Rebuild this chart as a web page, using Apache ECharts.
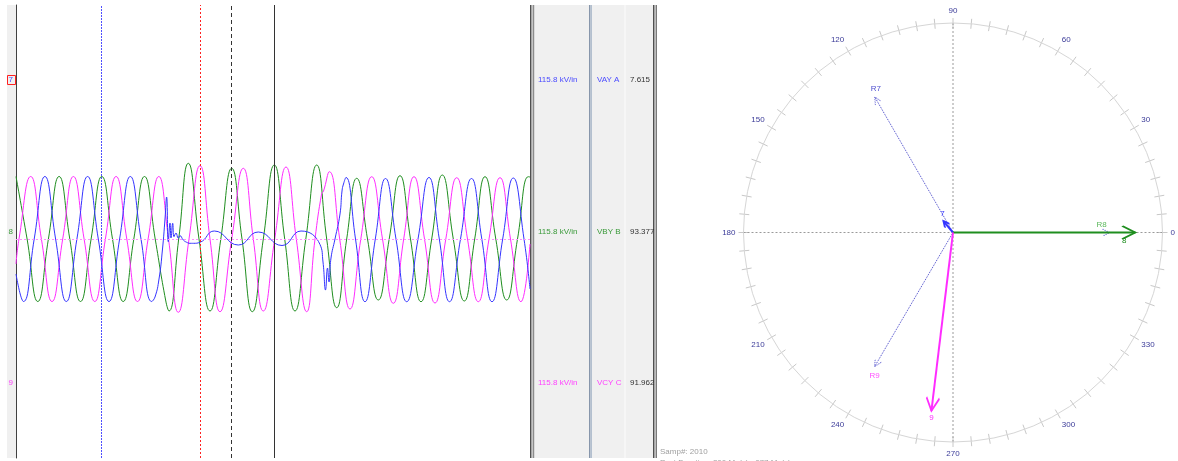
<!DOCTYPE html>
<html>
<head>
<meta charset="utf-8">
<script src="https://cdn.jsdelivr.net/npm/echarts@6/dist/echarts.min.js"></script>
<style>
html, body { margin: 0; padding: 0; background: #fff; }
#main { width: 1178px; height: 461px; }
</style>
</head>
<body>
<div id="main"></div>
<script>
// channel table (right panel + phasors)
var channelIds = ['7', '8', '9'];
var channelNames = ['VAY A', 'VBY B', 'VCY C'];
var channelScale = ['115.8 kV/in', '115.8 kV/in', '115.8 kV/in'];
var channelRms = [7.615, 93.377, 91.962];
var channelAngle = [130, 0, 263.1];

// reference phasors
var refNames = ['R7', 'R8', 'R9'];
var refMag = [80.1, 80.2, 79.5];
var refAngle = [120, 0, 239.7];

// cursor positions on the time axis
var cursorTimes = [85.7, 184.3, 215.3, 258.3];

// waveforms [t, value]
var phaseA = [[0,-35],[7.5,-62.5],[18.2,0],[28.9,62.5],[39.6,0],[50.3,-62.5],[60.9,0],[71.6,62.5],[82.3,0],[93,-62.5],
  [103.6,0],[114.3,62.5],[125,0],[135.7,-62.5],[139,-58],[143,-40],[146.5,-10],[149,20],[150.6,42],[152.3,-2.7],
  [154,16],[155,1],[156.7,15.7],[158,2.3],[160,6],[162.3,0.7],[164,3.3],[167.3,-1],[170.7,-3.3],[174,-4.3],
  [177.3,-4.3],[184,-3.3],[198.3,8],[222.3,-6],[242.3,7],[266,-6.5],[285,8],[304,-5.5],[307,-23],[309.5,-51],
  [311.5,-29],[313,-43],[315,-19],[319,0],[324,25],[326,48],[327.5,55],[330,61.5],[339.5,0],[349,-62.7],
  [359.3,0],[369.5,60.5],[380,0],[390.7,-62.7],[402,0],[413,61.5],[423.3,0],[433.5,-62.7],[444.5,0],[455.5,60.5],
  [465.8,0],[476,-62.7],[486.7,0],[497.3,61],[508,0],[514,-50]];

var phaseB = [[0,62.5],[11.1,0],[21.8,-62.5],[32.4,0],[43.1,62.5],[53.8,0],[64.5,-62.5],[75.1,0],[85.8,62.5],[96.5,0],
  [107.2,-62.5],[117.8,0],[128.5,62.5],[139.2,0],[149.8,-62],[153,-72],[162.7,0],[172.3,75.7],[183,0],[194,-72],
  [204.8,0],[215.7,70.7],[226,0],[236.3,-72.7],[247.3,0],[258.3,74],[268.7,0],[279,-72],[289.8,0],[300.7,74],
  [310.7,0],[320.7,-68.7],[330.7,0],[340.7,60.7],[351.5,0],[362.3,-61],[373.2,0],[384,63.3],[394.5,0],[405,-62.7],
  [415.7,0],[426.3,64],[437.3,0],[448.3,-62],[458.7,0],[469,62.3],[479.8,0],[490.7,-61],[501.5,0],[512.3,62.3],[514,62]];

var phaseC = [[0,-25],[3,0],[14.7,62.5],[25.4,0],[36,-62.5],[46.7,0],[57.4,62.5],[68.1,0],[78.8,-62.5],[89.4,0],
  [100.1,62.5],[110.8,0],[121.5,-62.5],[132.1,0],[142.8,62.5],[152.5,0],[162.3,-73.3],[173,0],[184,73.3],[194,0],
  [204,-72.7],[215.7,0],[227.3,70.7],[237.3,0],[247.3,-72],[258.7,0],[270,72],[280.3,0],[290.7,-72.7],[299,0],
  [305.7,45.7],[307.3,47.3],[313.3,67.3],[323.7,0],[334,-70],[344.8,0],[355.7,62.3],[366.5,0],[377.3,-64.3],[387.7,0],
  [398,62.3],[408.5,0],[419,-64],[429.8,0],[440.7,61.3],[451.5,0],[462.3,-62.7],[473,0],[484,61.3],[494.5,0],
  [505,-62.7],[514,-5]];

var waveColors = ['#3434ff', '#1f8e1f', '#ff2cff'];
var textColors = ['#4a4aff', '#3a9a3a', '#ff40ff'];
var rowY = [80, 232, 383];

var chart = echarts.init(document.getElementById('main'), null, { renderer: 'canvas' });

var arrowPath = 'path://M0,20L10,0L20,20M10,-20L10,-20';

function phasor(name, mag, ang, color, width, dotted, size, lab) {
  return {
    type: 'line',
    coordinateSystem: 'polar',
    polarIndex: 0,
    silent: true,
    z: dotted ? 3 : 5,
    lineStyle: { color: color, width: width, type: dotted ? 'dotted' : 'solid' },
    itemStyle: { color: 'rgba(0,0,0,0)', borderColor: color, borderWidth: width, borderType: dotted ? 'dotted' : 'solid' },
    data: [
      { value: [0, 0], symbol: 'none' },
      {
        value: [mag, ang],
        symbol: arrowPath,
        symbolSize: [size, size * 2],
        symbolRotate: ang - 90,
        label: {
          show: true, formatter: name, position: 'inside', offset: lab.offset,
          color: lab.color, fontSize: 8, fontFamily: 'Liberation Sans'
        }
      }
    ]
  };
}

// one empty series per marker line so each keeps its own style
function vline(axisKey, value, color, type) {
  var item = {};
  item[axisKey] = value;
  return {
    type: 'line', data: [], silent: true, z: 4,
    markLine: {
      silent: true, symbol: 'none', label: { show: false },
      lineStyle: { color: color, type: type, width: 1 },
      emphasis: { disabled: true },
      data: [item]
    }
  };
}

var series = [
  { type: 'line', data: phaseB, smooth: 0.5, showSymbol: false, silent: true, lineStyle: { color: waveColors[1], width: 1 } },
  { type: 'line', data: phaseC, smooth: 0.5, showSymbol: false, silent: true, lineStyle: { color: waveColors[2], width: 1 } },
  { type: 'line', data: phaseA, smooth: 0.5, showSymbol: false, silent: true, lineStyle: { color: waveColors[0], width: 1 } },
  vline('yAxis', 0, '#ff8cff', [2, 2])
];
var cursorColors = ['#4f4fff', '#ff2020', '#333333', '#333333'];
var cursorTypes = [[2, 1], [2, 2], [4, 3], 'solid'];
cursorTimes.forEach(function (t, i) {
  series.push(vline('xAxis', t, cursorColors[i], cursorTypes[i]));
});

// reference phasors (dotted)
var refLab = [
  { offset: [1, -8], color: '#5050d0' },
  { offset: [-8, -8], color: '#5cb85c' },
  { offset: [0, 9], color: '#ff50ff' }
];
for (var i = 0; i < 3; i++) {
  series.push(phasor(refNames[i], refMag[i], refAngle[i], '#4646c8', 1, true, 7, refLab[i]));
}
// measured phasors
var phLab = [
  { offset: [-1, -7], color: '#3434ff' },
  { offset: [-11, 8], color: '#1f8e1f' },
  { offset: [0, 7], color: '#ff2cff' }
];
var phSize = [6, 13, 13];
for (var j = 0; j < 3; j++) {
  series.push(phasor(channelIds[j], channelRms[j], channelAngle[j], waveColors[j], 2, false, phSize[j], phLab[j]));
}

var polarDef = { center: [953, 232.5], radius: 209.5 };

// panels and text
var graphics = [
  { type: 'rect', shape: { x: 7, y: 5, width: 9, height: 453 }, style: { fill: '#f0f0f0' } },
  { type: 'rect', shape: { x: 7.5, y: 75.5, width: 8, height: 9 }, style: { fill: 'none', stroke: '#ff2020', lineWidth: 1 } },
  { type: 'rect', shape: { x: 530, y: 5, width: 1.5, height: 453 }, style: { fill: '#505050' } },
  { type: 'rect', shape: { x: 532.5, y: 5, width: 2, height: 453 }, style: { fill: '#8c8c8c' } },
  { type: 'rect', shape: { x: 534.5, y: 5, width: 55, height: 453 }, style: { fill: '#f0f0f0' } },
  { type: 'rect', shape: { x: 589, y: 5, width: 1.5, height: 453 }, style: { fill: '#8796ab' } },
  { type: 'rect', shape: { x: 590.5, y: 5, width: 1.5, height: 453 }, style: { fill: '#b4c0cf' } },
  { type: 'rect', shape: { x: 592, y: 5, width: 61, height: 453 }, style: { fill: '#f0f0f0' } },
  { type: 'rect', shape: { x: 624.5, y: 5, width: 1, height: 453 }, style: { fill: '#fbfbfb' } },
  { type: 'rect', shape: { x: 653, y: 5, width: 1.5, height: 453 }, style: { fill: '#505050' } },
  { type: 'rect', shape: { x: 655.5, y: 5, width: 1.5, height: 453 }, style: { fill: '#7a7a7a' } },
  { type: 'text', x: 660, y: 452, style: { text: 'Samp#: 2010', fill: '#a0a0a0', font: '8px "Liberation Sans"', textVerticalAlign: 'middle' } },
  { type: 'text', x: 660, y: 463, style: { text: 'Post Duration: 200 Ms(s)   077 Ms(s)', fill: '#a0a0a0', font: '8px "Liberation Sans"', textVerticalAlign: 'middle' } }
];
for (var k = 0; k < 3; k++) {
  graphics.push({ type: 'text', x: 8.5, y: rowY[k], style: { text: channelIds[k], fill: textColors[k], font: '8px "Liberation Sans"', textVerticalAlign: 'middle' } });
  graphics.push({ type: 'text', x: 538, y: rowY[k], style: { text: channelScale[k], fill: textColors[k], font: '8px "Liberation Sans"', textVerticalAlign: 'middle' } });
  graphics.push({ type: 'text', x: 597, y: rowY[k], style: { text: channelNames[k], fill: textColors[k], font: '8px "Liberation Sans"', textVerticalAlign: 'middle' } });
  graphics.push({ type: 'text', x: 630, y: rowY[k], style: { text: channelRms[k].toFixed(3), fill: '#333333', font: '8px "Liberation Sans"', textVerticalAlign: 'middle' } });
}

var option = {
  animation: false,
  backgroundColor: '#ffffff',
  graphic: { elements: graphics },
  grid: { left: 16, top: 5, width: 514, height: 453 },
  xAxis: { type: 'value', min: 0, max: 514, show: false },
  yAxis: {
    type: 'value', min: -219, max: 234,
    axisLine: { show: true, lineStyle: { color: '#404040', width: 1 } },
    axisTick: { show: false }, axisLabel: { show: false }, splitLine: { show: false }
  },
  polar: [polarDef, polarDef, polarDef],
  radiusAxis: [0, 1, 2].map(function (p) {
    return { polarIndex: p, type: 'value', min: 0, max: 107.3, show: false };
  }),
  angleAxis: [
    {
      polarIndex: 0, type: 'value', min: 0, max: 360, interval: 5, startAngle: 0, clockwise: false,
      axisLine: { lineStyle: { color: '#d6d6d6', width: 1 } },
      axisTick: { length: 5, lineStyle: { color: '#c8c8c8' } },
      axisLabel: {
        margin: 8, color: '#3b3b98', fontSize: 8, fontFamily: 'Liberation Sans',
        formatter: function (v) { return (v % 30 === 0 && v < 360) ? String(v) : ''; }
      },
      splitLine: { show: false }
    },
    {
      polarIndex: 1, type: 'value', min: 0, max: 360, interval: 5, startAngle: 0, clockwise: false,
      axisLine: { show: false },
      axisTick: { inside: true, length: 5, lineStyle: { color: '#c8c8c8' } },
      axisLabel: { show: false }, splitLine: { show: false }
    },
    {
      polarIndex: 2, type: 'value', min: 0, max: 360, interval: 90, startAngle: 0, clockwise: false,
      axisLine: { show: false }, axisTick: { show: false }, axisLabel: { show: false },
      splitLine: { show: true, lineStyle: { color: '#9a9a9a', type: [2, 2], width: 1 } }
    }
  ],
  series: series
};

chart.setOption(option);
</script>
</body>
</html>
